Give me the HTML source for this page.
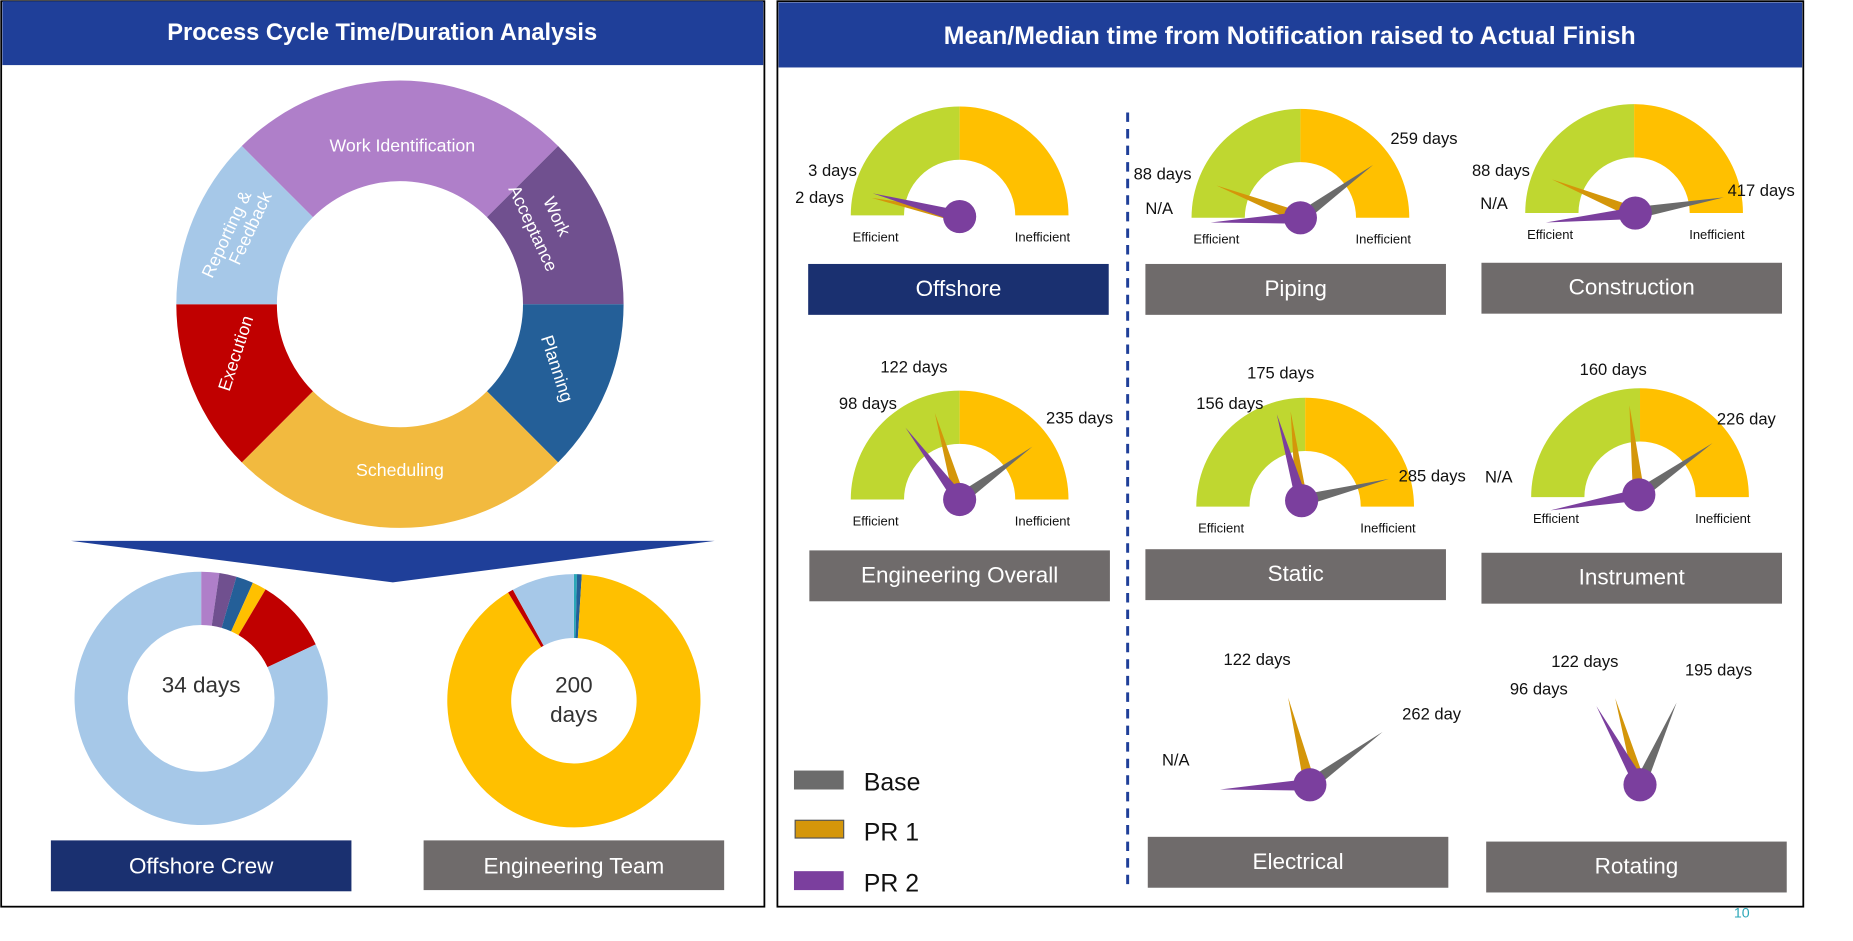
<!DOCTYPE html>
<html><head><meta charset="utf-8"><style>
html,body{margin:0;padding:0;background:#fff;}
svg{display:block;}
text{font-family:"Liberation Sans",Arial,sans-serif;}
.bx{font-family:"Liberation Sans Narrow","Liberation Sans",sans-serif;}
</style></head><body>
<svg id="s" width="1853" height="941" viewBox="0 0 1566 795" preserveAspectRatio="none" xmlns="http://www.w3.org/2000/svg">
<rect x="1" y="1" width="645" height="765" fill="#fff" stroke="#000" stroke-width="1.5"/>
<rect x="2" y="1" width="643" height="54" fill="#1F3F99"/>
<text x="323" y="34" text-anchor="middle" fill="#fff" font-size="20" font-weight="bold">Process Cycle Time/Duration Analysis</text>
<rect x="657" y="1" width="867" height="765" fill="#fff" stroke="#000" stroke-width="1.5"/>
<rect x="658" y="2" width="865" height="55" fill="#1F3F99"/>
<text x="1090" y="37" text-anchor="middle" fill="#fff" font-size="21" font-weight="bold">Mean/Median  time from Notification raised to Actual Finish</text>
<g id="cycle"></g>
<polygon points="60,457 604,457 332,492" fill="#1F3F99"/>
<g id="donuts"></g>
<rect x="43" y="710" width="254" height="43" fill="#1A3070"/>
<text class="bx" x="170" y="738" text-anchor="middle" fill="#fff" font-size="19">Offshore Crew</text>
<rect x="358" y="710" width="254" height="42" fill="#6F6B6B"/>
<text class="bx" x="485" y="738" text-anchor="middle" fill="#fff" font-size="19">Engineering Team</text>
<line x1="953" y1="95" x2="953" y2="750" stroke="#1F3F99" stroke-width="2.5" stroke-dasharray="8 6"/>
<g id="gauges"></g>
<g>
<rect x="671" y="651" width="42" height="16" fill="#6B6B6B"/>
<text x="730" y="668" font-size="21" fill="#111">Base</text>
<rect x="672" y="693" width="41" height="15" fill="#D4960A" stroke="#555" stroke-width="1"/>
<text x="730" y="710" font-size="21" fill="#111">PR 1</text>
<rect x="671" y="736" width="42" height="16" fill="#7B3F9E"/>
<text x="730" y="753" font-size="21" fill="#111">PR 2</text>
</g>
<text x="1472" y="775" text-anchor="middle" font-size="12" fill="#2AA7B8">10</text>
</svg>
<script>
const NS="http://www.w3.org/2000/svg";
// cycle ring
const cycleLabels=["Work Identification","Work Acceptance","Planning","Scheduling","Execution","Reporting & Feedback"];
const cycleSpans=[90,45,45,90,45,45];
const cycleColors=["#AF7FC9","#70508F","#245F98","#F2BA3F","#C00000","#A6C8E8"];
// offshore donut
const offCats=["Work Identification","Work Acceptance","Planning","Scheduling","Execution","Reporting & Feedback"];
const offVals=[2.3,2.2,2.2,1.8,9.5,82];
const offColors=["#AF7FC9","#70508F","#245F98","#FFC000","#C00000","#A6C8E8"];
// engineering donut
const engCats=["Work Acceptance","Planning","Scheduling","Execution","Reporting & Feedback"];
const engVals=[0.4,0.6,90.3,0.7,8];
const engColors=["#2AA7B8","#245F98","#FFC000","#C00000","#A6C8E8"];
// gauges
const gaugeNames=["Offshore","Piping","Construction","Engineering Overall","Static","Instrument","Electrical","Rotating"];
const baseAngles=[null,144,170,144,166,145,144,114];
const pr1Angles=[12,21,22,74,83,84,76,74];
const pr2Angles=[15,-3,-6,53,74,-10,-3,61];
const gaugeLabels=[
 [["3 days",683,145],["2 days",672,168]],
 [["259 days",1175,118],["88 days",958,148],["N/A",968,177]],
 [["88 days",1244,145],["N/A",1251,173],["417 days",1460,162]],
 [["122 days",744,311],["98 days",709,342],["235 days",884,354]],
 [["175 days",1054,316],["156 days",1011,342],["285 days",1182,403]],
 [["160 days",1335,313],["226 day",1451,355],["N/A",1255,404]],
 [["122 days",1034,558],["262 day",1185,604],["N/A",982,643]],
 [["122 days",1311,560],["195 days",1424,567],["96 days",1276,583]]
];

function el(t,a,p){const e=document.createElementNS(NS,t);for(const k in a)e.setAttribute(k,a[k]);p.appendChild(e);return e;}
function pt(cx,cy,r,deg){const a=deg*Math.PI/180;return [cx+r*Math.sin(a),cy-r*Math.cos(a)];}
function sector(cx,cy,r0,r1,a0,a1){const l=(a1-a0)>180?1:0;const p1=pt(cx,cy,r1,a0),p2=pt(cx,cy,r1,a1),p3=pt(cx,cy,r0,a1),p4=pt(cx,cy,r0,a0);
return `M${p1[0]},${p1[1]}A${r1},${r1} 0 ${l} 1 ${p2[0]},${p2[1]}L${p3[0]},${p3[1]}A${r0},${r0} 0 ${l} 0 ${p4[0]},${p4[1]}Z`;}

// cycle
const cyc=document.getElementById('cycle');
let a=-45;
cycleSpans.forEach((s,i)=>{
 const p=el('path',{d:sector(338,257,104,189,a,a+s),fill:cycleColors[i]},cyc);
 
 
 a+=s;
});
const cl=[["Work Identification",340,128,0],["Work Acceptance",0,0,0],["Planning",466,313,72],["Scheduling",338,402,0],["Execution",199,300,-72],["Reporting & Feedback",0,0,0]];
function ctext(txt,x,y,rot,p){const t=el('text',{x:x,y:y,'text-anchor':'middle',fill:'#fff','font-size':15,transform:`rotate(${rot} ${x} ${y})`},cyc);t.textContent=txt;

}
ctext("Work Identification",340,128,0);
ctext("Planning",466,313,72);
ctext("Scheduling",338,402,0);
ctext("Execution",204,300,-72);
ctext("Work",466,185,65);ctext("Acceptance",446,195,65);
ctext("Reporting &",196,200,-65);ctext("Feedback",216,195,-65);

// donuts
const dg=document.getElementById('donuts');
function donut(cx,cy,r0,r1,vals,cols,name){
 const tot=vals.reduce((x,y)=>x+y,0);let a=0;
 vals.forEach((v,i)=>{const s=v/tot*360;
  const p=el('path',{d:sector(cx,cy,r0,r1,a,a+s),fill:cols[i]},dg);
  
  
  a+=s;});
}
donut(170,590,62,107,offVals,offColors,'offshore-donut');
donut(485,592,53,107,engVals,engColors,'engineering-donut');
function tx(txt,x,y,size,fill,p,name,anchor){const t=el('text',{x:x,y:y,'font-size':size,fill:fill,'text-anchor':anchor||'middle','dominant-baseline':'middle'},p);t.textContent=txt;

return t;}
tx("34 days",170,580,19,"#333",dg,'offshore-total');
tx("200",485,580,19,"#333",dg,'engineering-total');
tx("days",485,605,19,"#333",dg,'engineering-total-unit');

// gauges
const gg=document.getElementById('gauges');
const centers=[[811,182],[1099,184],[1381,180],[811,422],[1103,428],[1386,420],[1107,663],[1386,663]];
const hubs=[[811,183],[1099,184],[1382,180],[811,422],[1100,423],[1385,418],[1107,663],[1386,663]];
const hasArc=[1,1,1,1,1,1,0,0];
const boxes=[[683,223,"#1A3070"],[968,223,"#6F6B6B"],[1252,222,"#6F6B6B"],[684,465,"#6F6B6B"],[968,464,"#6F6B6B"],[1252,467,"#6F6B6B"],[970,707,"#6F6B6B"],[1256,711,"#6F6B6B"]];
function needle(hx,hy,ang,len,col){const t=ang*Math.PI/180;const dx=-Math.cos(t),dy=-Math.sin(t);const nx=-dy,ny=dx;
 const tipx=hx+dx*len,tipy=hy+dy*len;
 const p=el('polygon',{points:`${tipx},${tipy} ${hx+nx*5},${hy+ny*5} ${hx-nx*5},${hy-ny*5}`,fill:col},gg);
 
 }
gaugeNames.forEach((n,i)=>{
 const [cx,cy]=centers[i];
 if(hasArc[i]){
  const g1=el('path',{d:sector(cx,cy,47,92,-90,0),fill:'#BFD730'},gg);
  
  
  const g2=el('path',{d:sector(cx,cy,47,92,0,90),fill:'#FFC000'},gg);
  
  
  tx("Efficient",cx-71,cy+19,11,"#111",gg,'efficient-label');
  tx("Inefficient",cx+70,cy+19,11,"#111",gg,'inefficient-label');
 }
 const [hx,hy]=hubs[i];
 if(baseAngles[i]!==null)needle(hx,hy,baseAngles[i],76,'#6B6B6B');
 needle(hx,hy,pr1Angles[i],76,'#D4960A');
 needle(hx,hy,pr2Angles[i],76,'#7B3F9E');
 const h=el('circle',{cx:hx,cy:hy,r:14,fill:'#7B3F9E'},gg);
 
 
 gaugeLabels[i].forEach(l=>tx(l[0],l[1],l[2],14,"#111",gg,'gauge-value-label','start'));
 const [bx,by,bc]=boxes[i];
 const r=el('rect',{x:bx,y:by,width:254,height:43,fill:bc},gg);
 
 
 const t=tx(n,bx+127,by+22,19,"#fff",gg,'gauge-title');t.setAttribute('class','bx');
});
</script>
</body></html>
